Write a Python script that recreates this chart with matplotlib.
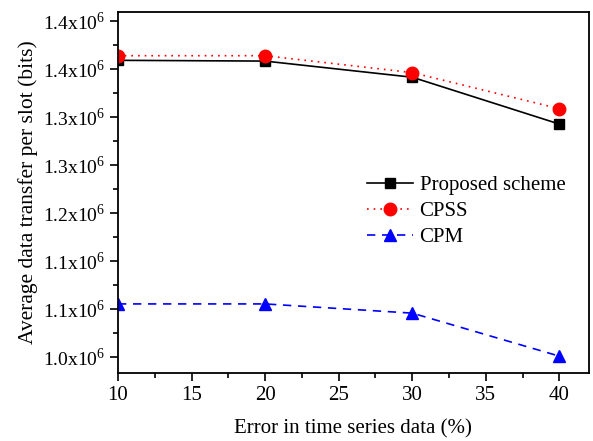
import numpy as np
import matplotlib
matplotlib.use("Agg")
import matplotlib.pyplot as plt
from matplotlib.ticker import FixedLocator, FixedFormatter, MultipleLocator

plt.rcParams['font.family'] = 'Liberation Serif'
plt.rcParams['mathtext.fontset'] = 'custom'
plt.rcParams['mathtext.rm'] = 'Liberation Serif'

err = [10, 20, 30, 40]
proposed = [1.386e6, 1.385e6, 1.364e6, 1.303e6]
cpss = [1.392e6, 1.392e6, 1.370e6, 1.323e6]
cpm = [1.069e6, 1.069e6, 1.057e6, 1.001e6]

# tick positions and the (rounded) labels as printed on the original
ytick_vals = [1.0e6 + k * 62500 for k in range(8)]
ytick_labels = ['1.0', '1.1', '1.1', '1.2', '1.3', '1.3', '1.4', '1.4']

fig = plt.figure(figsize=(5.93, 4.41), dpi=100)
ax = fig.add_axes([0.199, 0.154, 0.794, 0.819])

ax.plot(err, proposed, color='black', lw=1.2, ls='-', marker='s', ms=7,
        label='Proposed scheme')
ax.plot(err, cpss, color='red', lw=1.2, ls=(0, (1, 3)), marker='o', ms=9,
        label='CPSS')
ax.plot(err, cpm, color='blue', lw=1.2, ls=(0, (5, 4)), marker='^', ms=8,
        label='CPM')

ax.set_xlim(10, 42)
ax.set_ylim(0.979e6, 1.449e6)
ax.xaxis.set_major_locator(MultipleLocator(5))
ax.xaxis.set_minor_locator(MultipleLocator(2.5))
ax.yaxis.set_major_locator(FixedLocator(ytick_vals))
ax.yaxis.set_major_formatter(FixedFormatter([s + r'x10$^{6}$' for s in ytick_labels]))
ax.yaxis.set_minor_locator(FixedLocator([v + 31250 for v in ytick_vals]))

ax.tick_params(which='both', direction='out', labelsize=14, width=1.2,
               top=False, right=False)
ax.tick_params(axis='x', labelsize=15)
ax.tick_params(which='major', length=6)
ax.tick_params(which='minor', length=3.5)
for s in ax.spines.values():
    s.set_linewidth(1.3)

ax.set_xlabel('Error in time series data (%)', fontsize=15, labelpad=10)
ax.set_ylabel('Average data transfer per slot (bits)', fontsize=15.5, labelpad=3)

ax.legend(loc='upper left', bbox_to_anchor=(0.49, 0.598), frameon=False,
          fontsize=15, handlelength=2.2, handletextpad=0.3, labelspacing=0.3)

fig.savefig('out.png', dpi=100)
